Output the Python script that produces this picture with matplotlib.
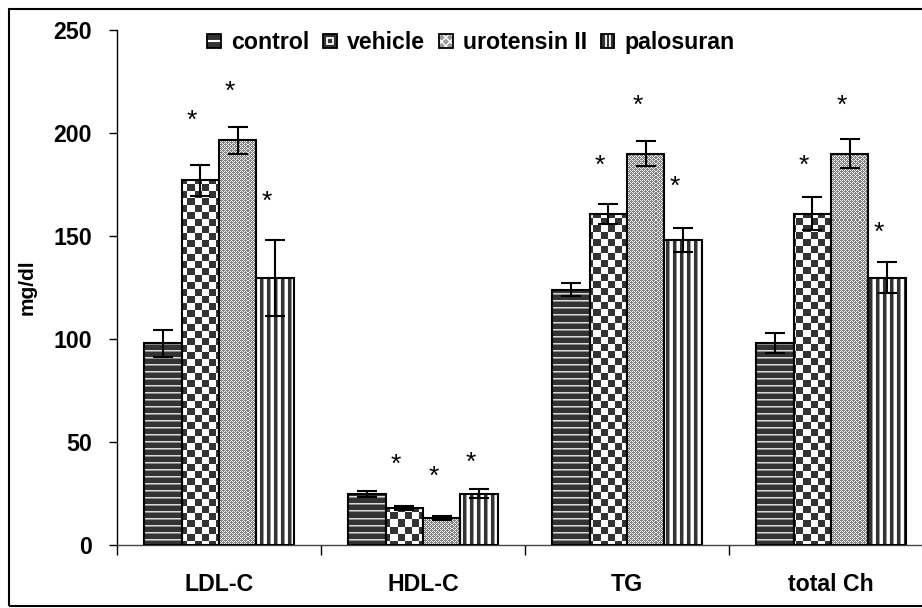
import numpy as np
import matplotlib
matplotlib.use('Agg')
import matplotlib.pyplot as plt
from matplotlib.patches import Rectangle, Patch
from matplotlib.lines import Line2D
from matplotlib.legend_handler import HandlerBase

plt.rcParams['font.family'] = ['Liberation Sans', 'DejaVu Sans']
plt.rcParams['font.weight'] = 'bold'
plt.rcParams['font.size'] = 16.7

categories = ['LDL-C', 'HDL-C', 'TG', 'total Ch']
groups = ['control', 'vehicle', 'urotensin II', 'palosuran']

# mean values (mg/dl), one list per group, in category order
control = [98, 24.8, 124, 98]
vehicle = [177, 18, 160.7, 160.7]
urotensin = [196.5, 13, 190, 190]
palosuran = [129.5, 24.8, 148, 129.8]

control_err = [6.5, 1.5, 3, 4.7]
vehicle_err = [7.5, 1, 5, 8]
urotensin_err = [6.5, 1, 6, 7]
palosuran_err = [18.5, 2.2, 6, 7.5]

# asterisk heights (mg/dl) for the treated groups; None = no mark
control_star = [None, None, None, None]
vehicle_star = [206, 39, 184, 184]
urotensin_star = [220, 33, 213, 213]
palosuran_star = [166.5, 40, 174, 151.5]

means = [control, vehicle, urotensin, palosuran]
errs = [control_err, vehicle_err, urotensin_err, palosuran_err]
stars = [control_star, vehicle_star, urotensin_star, palosuran_star]

W_PX, H_PX = 816, 515
DARK = 0.2


def make_pattern(name):
    r, c = np.indices((H_PX, W_PX))
    if name == 'control':
        p = np.full(r.shape, DARK)
        p[r % 7 == 5] = 0.85
        p[r % 7 == 6] = 0.55
    elif name == 'vehicle':
        p = np.where(((r // 7) + (c // 7)) % 2 == 0, DARK, 1.0)
    elif name == 'urotensin II':
        p = np.full(r.shape, 0.5)
        diag = ((r + c) % 4 == 0) | ((r - c) % 4 == 0)
        p[diag] = 0.95
    else:
        cols = np.array([1.0, 1.0, 0.95, DARK, DARK, DARK, 0.6])
        p = cols[c % 7]
    return p


class PatternHandler(HandlerBase):
    def create_artists(self, legend, orig_handle, xdescent, ydescent,
                       width, height, fontsize, trans):
        x0, y0 = -xdescent, -ydescent
        name = orig_handle.get_gid()
        arts = []
        if name == 'urotensin II':
            arts.append(Rectangle((x0, y0), width, height, facecolor='#9a9a9a',
                                  edgecolor='white', hatch='xxxx', lw=0, transform=trans))
        else:
            arts.append(Rectangle((x0, y0), width, height, facecolor='#333333',
                                  edgecolor='none', transform=trans))
        if name == 'control':
            arts.append(Line2D([x0, x0 + width], [y0 + height / 2] * 2,
                               color='white', lw=1.5, transform=trans))
        elif name == 'vehicle':
            arts.append(Rectangle((x0 + width * 0.3, y0 + height * 0.3), width * 0.4,
                                  height * 0.4, fill=False, edgecolor='white', lw=1.3,
                                  transform=trans))
        elif name == 'palosuran':
            for f in (0.36, 0.64):
                arts.append(Line2D([x0 + width * f] * 2, [y0, y0 + height],
                                   color='white', lw=1.3, transform=trans))
        arts.append(Rectangle((x0, y0), width, height, fill=False,
                              edgecolor='black', lw=1.3, transform=trans))
        return arts


fig = plt.figure(figsize=(9.22, 6.08), dpi=100)
ax = fig.add_axes([117 / 922, 63 / 608, 816 / 922, 515 / 608])

fig.patches.append(Rectangle((9 / 922, 2 / 608), 1.0, 597 / 608, transform=fig.transFigure,
                             fill=False, edgecolor='black', lw=1.5))

x = np.arange(len(categories))
width = 0.183

for i, name in enumerate(groups):
    offs = (i - 1.5) * width
    bars = ax.bar(x + offs, means[i], width, facecolor='none', edgecolor='black',
                  linewidth=1.5, zorder=3)
    pat = make_pattern(name)
    for b in bars:
        im = ax.imshow(pat, cmap='gray', vmin=0, vmax=1, extent=(-0.5, 3.5, 0, 250),
                       interpolation='nearest', aspect='auto', zorder=2)
        im.set_clip_path(b)
    ax.errorbar(x + offs, means[i], yerr=errs[i], fmt='none', ecolor='black',
                elinewidth=1.5, capsize=7, capthick=1.5, zorder=4)
    for j, s in enumerate(stars[i]):
        if s is not None:
            ax.text(x[j] + offs - 0.04, s, '*', ha='center', va='center',
                    fontsize=19, fontweight='normal', zorder=5)

ax.set_xlim(-0.5, 3.5)
ax.set_ylim(0, 250)
ax.set_yticks(np.arange(0, 251, 50))
ax.set_xticks(x)
ax.set_xticklabels(categories)
ax.set_xticks(np.arange(-0.5, 4, 1), minor=True)
ax.tick_params(axis='x', which='major', length=0, pad=20)
ax.tick_params(axis='x', which='minor', length=7, width=1, direction='out')
ax.tick_params(axis='y', length=6, width=1, direction='out', pad=12)
ax.spines['top'].set_visible(False)
ax.spines['right'].set_visible(False)
ax.spines['left'].set_linewidth(1)
ax.spines['bottom'].set_linewidth(1)
ax.spines['bottom'].set_color('#444444')
ax.set_ylabel('mg/dl', fontsize=15, fontweight='bold', labelpad=12)

handles = [Patch(gid=g, label=g) for g in groups]
ax.legend(handles=handles, handler_map={Patch: PatternHandler()}, loc='center',
          bbox_to_anchor=(0.434, 0.975), ncol=4, frameon=False, handlelength=0.58,
          handleheight=0.58, handletextpad=0.45, columnspacing=0.6, borderpad=0,
          fontsize=16.7)

fig.savefig('out.png', dpi=100)
